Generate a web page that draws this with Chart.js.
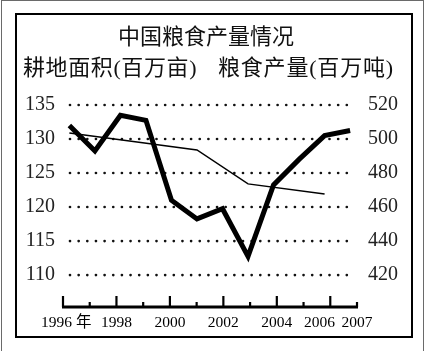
<!DOCTYPE html>
<html>
<head>
<meta charset="utf-8">
<script src="https://cdn.jsdelivr.net/npm/chart.js@4"></script>
<style>
  html, body { margin: 0; padding: 0; background: #fff; }
  #wrap { position: relative; width: 428px; height: 351px; overflow: hidden; }
  #chart { position: absolute; left: 0; top: 0; }
  .outer { position: absolute; left: 1px; top: 0; width: 423px; height: 360px; box-sizing: border-box;
           border: 1.5px solid #6a6a6a; border-bottom: none; }
  .box { position: absolute; left: 15px; top: 13px; width: 398px; height: 325px; box-sizing: border-box;
         border: 2px solid #000; }
  .txt { position: absolute; white-space: nowrap; color: #111; line-height: 22px;
         font-family: "Liberation Serif", "Noto Sans CJK SC", serif; font-size: 22px; }
</style>
</head>
<body>
<div id="wrap">
  <div class="outer"></div>
  <div class="box"></div>
  <canvas id="chart" width="428" height="351"></canvas>
  <div class="txt" id="title" style="left:0; width:412px; text-align:center; top:26px;">中国粮食产量情况</div>
  <div class="txt" style="left:23px; top:57px; letter-spacing:0.6px;">耕地面积(百万亩)</div>
  <div class="txt" style="left:218px; top:57px; letter-spacing:0.8px;">粮食产量(百万吨)</div>
</div>
<script>
// 中国粮食产量情况 1996-2007
const years = [1996, 1997, 1998, 1999, 2000, 2001, 2002, 2003, 2004, 2005, 2006, 2007];
const grainOutput = [508, 493, 514, 511, 464, 453, 459, 431, 473, 488, 502, 505]; // 百万吨
const areaYears = [1996, 2001, 2003, 2006];
const farmland = [130.9, 128.4, 123.4, 121.9]; // 百万亩
const areaTicks = [110, 115, 120, 125, 130, 135];
const grainTicks = [420, 440, 460, 480, 500, 520];
const yearLabels = [
    { year: 1996, text: '1996 年' },
    { year: 1998, text: '1998' },
    { year: 2000, text: '2000' },
    { year: 2002, text: '2002' },
    { year: 2004, text: '2004' },
    { year: 2006, text: '2006' },
    { year: 2007, text: '2007' },
];
const majorYears = [1996, 1998, 2000, 2002, 2004, 2006];

// label nudges (in years) so 2006 / 2007 don't collide
const labelShift = { 1996: 0.12, 2006: -0.4 };

const SERIF = '"Liberation Serif", "Noto Sans CJK SC", serif';
Chart.defaults.font.family = SERIF;

const dottedGrid = {
    id: 'dottedGrid',
    beforeDatasetsDraw(chart) {
        const ctx = chart.ctx;
        const y = chart.scales.yArea;
        ctx.save();
        ctx.fillStyle = '#111';
        areaTicks.forEach(v => {
            const py = y.getPixelForValue(v);
            for (let px = 70; px <= 353; px += 8.65) {
                ctx.beginPath();
                ctx.arc(px, py, 1.35, 0, Math.PI * 2);
                ctx.fill();
            }
        });
        ctx.restore();
    }
};

const yearAxis = {
    id: 'yearAxis',
    afterDatasetsDraw(chart) {
        const ctx = chart.ctx;
        const sx = chart.scales.years;
        const base = chart.chartArea.bottom;
        ctx.save();
        ctx.strokeStyle = '#000';
        ctx.lineWidth = 3;
        ctx.beginPath();
        ctx.moveTo(sx.getPixelForValue(1996) - 1, base);
        ctx.lineTo(sx.getPixelForValue(2007) + 1, base);
        ctx.stroke();
        ctx.lineWidth = 2.2;
        years.forEach(yr => {
            const px = sx.getPixelForValue(yr);
            const h = majorYears.includes(yr) ? 11 : 5;
            ctx.beginPath();
            ctx.moveTo(px, base);
            ctx.lineTo(px, base - h);
            ctx.stroke();
        });
        ctx.restore();
    }
};

const ctx = document.getElementById('chart').getContext('2d');
new Chart(ctx, {
    type: 'line',
    data: {
        datasets: [
            {
                label: '粮食产量',
                data: years.map((yr, i) => ({ x: yr, y: grainOutput[i] })),
                yAxisID: 'yGrain',
                borderColor: '#000',
                borderWidth: 5,
                pointRadius: 0,
                tension: 0,
                borderJoinStyle: 'miter'
            },
            {
                label: '耕地面积',
                data: areaYears.map((yr, i) => ({ x: yr, y: farmland[i] })),
                yAxisID: 'yArea',
                borderColor: '#000',
                borderWidth: 1.5,
                pointRadius: 0,
                tension: 0
            }
        ]
    },
    options: {
        responsive: false,
        animation: false,
        events: [],
        layout: { padding: { top: 105, left: 23, right: 21, bottom: 19 } },
        plugins: {
            legend: { display: false },
            tooltip: { enabled: false }
        },
        scales: {
            x: {
                type: 'linear',
                display: false,
                min: 1995.75,
                max: 2007.27
            },
            years: {
                type: 'linear',
                position: 'bottom',
                min: 1996,
                max: 2007,
                grid: { display: false, drawTicks: false },
                border: { display: false },
                afterBuildTicks: (scale) => {
                    scale.ticks = yearLabels.map(l => ({ value: l.year + (labelShift[l.year] || 0) }));
                },
                afterFit: (scale) => { scale.height = 25; },
                ticks: {
                    autoSkip: false,
                    maxRotation: 0,
                    padding: 7,
                    color: '#000',
                    font: { family: SERIF, size: 15.5 },
                    callback: (v, i) => yearLabels[i].text
                }
            },
            yArea: {
                type: 'linear',
                position: 'left',
                min: 105.3,
                max: 135,
                grid: { display: false, drawTicks: false },
                border: { display: false },
                afterBuildTicks: (scale) => { scale.ticks = areaTicks.map(v => ({ value: v })); },
                afterFit: (scale) => { scale.width = 40; },
                ticks: {
                    padding: 8,
                    color: '#222',
                    font: { family: SERIF, size: 20 }
                }
            },
            yGrain: {
                type: 'linear',
                position: 'right',
                min: 401.2,
                max: 520,
                grid: { display: false, drawTicks: false },
                border: { display: false },
                afterBuildTicks: (scale) => { scale.ticks = grainTicks.map(v => ({ value: v })); },
                afterFit: (scale) => { scale.width = 50; },
                ticks: {
                    padding: 11,
                    color: '#222',
                    font: { family: SERIF, size: 20 }
                }
            }
        }
    },
    plugins: [dottedGrid, yearAxis]
});
</script>
</body>
</html>
